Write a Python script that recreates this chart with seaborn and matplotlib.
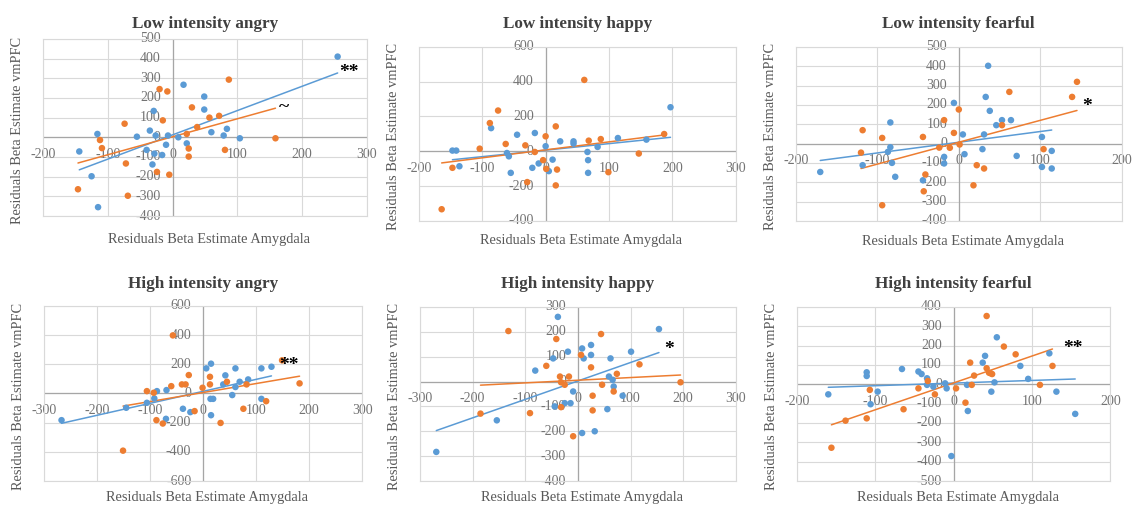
import matplotlib
matplotlib.use("Agg")
import matplotlib.pyplot as plt
import seaborn as sns

BLUE = "#5b9bd5"
ORANGE = "#ed7d31"

# ============================
# DATA (residual beta estimates)
# ============================
# Low intensity angry
la_blue_x = [255, -144, -116, -125, -115, -55, -40, -35, -29, -31, -28, -16, -10, -7, 9, 17, 22, 49, 49, 60, 79, 84, 104, -26]
la_blue_y = [410, -72, 17, -198, -355, 3, -64, 34, 134, -138, -83, -90, -38, 9, 0, 267, -31, 207, 141, 26, 9, 43, -5, 9]
la_orange_x = [-146, -112, -109, -74, -72, -69, -24, -20, -15, -8, -5, 22, 25, 25, 30, 38, 57, 72, 81, 87, 159]
la_orange_y = [-264, -14, -55, 69, -133, -297, -176, 245, 86, 233, -190, 17, -57, -98, 152, 52, 100, 109, -64, 293, -5]

# Low intensity happy
lh_blue_x = [-147, -141, -136, -86, -61, -58, -55, -45, -17, -21, -11, 0, 5, 11, 23, 44, 44, 66, 67, 67, 82, 114, 159, 197]
lh_blue_y = [4, 4, -86, 133, -10, -29, -124, 95, 105, -95, -70, 29, -114, -48, 57, 57, 44, -4, -51, -124, 25, 76, 67, 253]
lh_orange_x = [-164, -147, -104, -88, -75, -63, -32, -29, -17, -4, 0, 1, 16, 18, 16, 61, 68, 87, 99, 147, 187]
lh_orange_y = [-333, -95, 15, 162, 234, 42, 34, -177, -4, -51, 86, -101, 143, -105, -196, 410, 61, 70, -120, -13, 99]

# Low intensity fearful
lf_blue_x = [-170, -118, -84, -84, -87, -82, -78, -44, -18, -18, -6, 5, 7, 29, 31, 33, 36, 38, 46, 53, 64, 71, 102, 102, 114, 114]
lf_blue_y = [-147, -112, 109, -19, -43, -100, -172, -190, -69, -103, 210, 47, -55, -29, 47, 241, 402, 169, 95, 121, 121, -64, 34, -121, -38, -129]
lf_orange_x = [-120, -118, -94, -94, -44, -43, -41, -24, -18, -11, -6, 0, 1, 18, 22, 31, 53, 62, 104, 139, 145]
lf_orange_y = [-47, 69, 29, -319, 34, -247, -160, -21, 121, -22, 55, 176, -5, -216, -112, -129, 95, 267, -29, 241, 319]

# High intensity angry
ha_blue_x = [-267, -145, -106, -92, -87, -69, -70, -38, -24, 6, 15, 14, 19, 15, 38, 42, 55, 61, 61, 69, 85, 110, 110, 129]
ha_blue_y = [-183, -98, -64, -34, 16, 23, -174, -105, -128, 172, 204, -37, -37, -149, 62, 124, -11, 172, 44, 80, 96, 172, -37, 183]
ha_orange_x = [-151, -106, -93, -88, -76, -60, -40, -33, -27, -57, -16, -1, 13, 13, 33, 45, 76, 82, 119, 149, 182]
ha_orange_y = [-392, 16, 5, -183, -206, 50, 62, 62, 126, 398, -121, 39, 114, 62, -202, 80, -105, 62, -53, 227, 69]

# High intensity happy
hh_blue_x = [-269, -154, -81, -47, -38, -44, -25, -19, -14, -9, 8, 11, 8, 25, 25, 32, 56, 59, 62, 66, 68, 85, 101, 154]
hh_blue_y = [-283, -156, 44, 93, 260, -100, -87, 120, -87, -40, 133, 93, -207, 147, 107, -200, -111, 20, 93, 7, -20, -57, 120, 211]
hh_orange_x = [-185, -132, -91, -60, -41, -34, -32, -32, -25, -17, -9, 6, 25, 28, 28, 44, 46, 68, 74, 117, 195]
hh_orange_y = [-129, 203, -127, 63, 171, 20, -3, -103, -13, 20, -220, 107, 57, -57, -116, 191, -13, -40, 31, 69, -3]

# High intensity fearful
hf_blue_x = [-160, -111, -111, -106, -97, -66, -45, -41, -34, -34, -26, -11, -9, -3, 17, 18, 37, 40, 48, 52, 55, 85, 95, 122, 131, 155]
hf_blue_y = [-52, 62, 43, -103, -38, 79, 66, 53, 31, -3, -12, 5, -21, -371, -3, -138, 112, 147, -38, 10, 243, 95, 28, 160, -38, -153]
hf_orange_x = [-156, -138, -111, -107, -64, -45, -33, -24, 3, 15, 21, 23, 26, 42, 42, 45, 47, 49, 64, 79, 110, 126]
hf_orange_y = [-328, -188, -176, -29, -129, -21, 17, -52, -21, -95, 112, -3, 45, 353, 83, 60, 57, 53, 195, 155, -3, 95]

# ============================
# PANEL SETUP
# ============================
panels = [
    dict(title="Low intensity angry", blue=(la_blue_x, la_blue_y), orange=(la_orange_x, la_orange_y),
         xr=(-200, 300, 100), yr=(-400, 500, 100), pos=[0.038, 0.5756, 0.286, 0.348],
         tpad=8, xlpad=17, notes=[("**", 272, 331), ("~", 172, 150)]),
    dict(title="Low intensity happy", blue=(lh_blue_x, lh_blue_y), orange=(lh_orange_x, lh_orange_y),
         xr=(-200, 300, 100), yr=(-400, 600, 200), pos=[0.370, 0.566, 0.280, 0.342],
         tpad=13.5, xlpad=14, notes=[]),
    dict(title="Low intensity fearful", blue=(lf_blue_x, lf_blue_y), orange=(lf_orange_x, lf_orange_y),
         xr=(-200, 200, 100), yr=(-400, 500, 100), pos=[0.703, 0.566, 0.288, 0.342],
         tpad=13.5, xlpad=15, notes=[("*", 157, 190)]),
    dict(title="High intensity angry", blue=(ha_blue_x, ha_blue_y), orange=(ha_orange_x, ha_orange_y),
         xr=(-300, 300, 100), yr=(-600, 600, 200), pos=[0.0389, 0.055, 0.281, 0.344],
         tpad=13, xlpad=12, notes=[("**", 162, 192)]),
    dict(title="High intensity happy", blue=(hh_blue_x, hh_blue_y), orange=(hh_orange_x, hh_orange_y),
         xr=(-300, 300, 100), yr=(-400, 300, 100), pos=[0.371, 0.055, 0.279, 0.342],
         tpad=13.5, xlpad=12, notes=[("*", 174, 127)]),
    dict(title="High intensity fearful", blue=(hf_blue_x, hf_blue_y), orange=(hf_orange_x, hf_orange_y),
         xr=(-200, 200, 100), yr=(-500, 400, 100), pos=[0.704, 0.055, 0.277, 0.342],
         tpad=13.5, xlpad=12, notes=[("**", 152, 186)]),
]

sns.set_theme(style="white")
plt.rcParams["font.family"] = ["Liberation Serif", "DejaVu Serif"]

fig = plt.figure(figsize=(11.32, 5.09), dpi=100)

for p in panels:
    ax = fig.add_axes(p["pos"])
    x0, x1, xs = p["xr"]
    y0, y1, ys = p["yr"]
    xticks = list(range(x0, x1 + 1, xs))
    yticks = list(range(y0, y1 + 1, ys))

    # trendlines first, then points on top
    for (xs_, ys_), col in [(p["blue"], BLUE), (p["orange"], ORANGE)]:
        sns.regplot(x=xs_, y=ys_, ax=ax, scatter=False, ci=None, truncate=True,
                    line_kws=dict(color=col, lw=1.1, zorder=3))
    for (xs_, ys_), col in [(p["blue"], BLUE), (p["orange"], ORANGE)]:
        sns.scatterplot(x=xs_, y=ys_, ax=ax, color=col, s=22, marker="o",
                        edgecolor="none", zorder=4)

    ax.set_xlim(x0, x1)
    ax.set_ylim(y0, y1)
    ax.set_xticks(xticks)
    ax.set_yticks(yticks)
    ax.set_xticklabels([])
    ax.set_yticklabels([])
    ax.tick_params(length=0)
    ax.grid(True, color="#d9d9d9", lw=0.8)
    ax.set_axisbelow(True)
    for sp in ax.spines.values():
        sp.set_color("#d9d9d9")
        sp.set_linewidth(0.8)
    ax.axhline(0, color="#a6a6a6", lw=0.9, zorder=2)
    ax.axvline(0, color="#a6a6a6", lw=0.9, zorder=2)

    # Excel-style tick labels sitting on the zero axes
    for t in xticks:
        ax.annotate(str(t), xy=(t, 0), xytext=(0, -12.5), textcoords="offset points",
                    ha="center", va="center", fontsize=10, color="#737373",
                    annotation_clip=False, zorder=1)
    for t in yticks:
        ax.annotate(str(t), xy=(0, t), xytext=(-8.5, 0), textcoords="offset points",
                    ha="right", va="center", fontsize=10, color="#737373",
                    annotation_clip=False, zorder=1)

    ax.set_title(p["title"], fontsize=12.3, fontweight="bold", color="#404040", pad=p["tpad"])
    ax.annotate("Residuals Beta Estimate Amygdala", xy=(0.5, 0), xycoords="axes fraction",
                xytext=(3, -p["xlpad"]), textcoords="offset points",
                ha="center", va="center", fontsize=10.4, color="#595959")
    ax.annotate("Residuals Beta Estimate vmPFC", xy=(0, 0.5), xycoords="axes fraction",
                xytext=(-18.5, -2), textcoords="offset points", rotation=90,
                ha="center", va="center", fontsize=10.4, color="#595959")

    for txt, nx, ny in p["notes"]:
        ax.text(nx, ny, txt, fontsize=14, fontweight="bold", color="black",
                ha="center", va="center", zorder=5)

fig.savefig("out.png", dpi=100)
